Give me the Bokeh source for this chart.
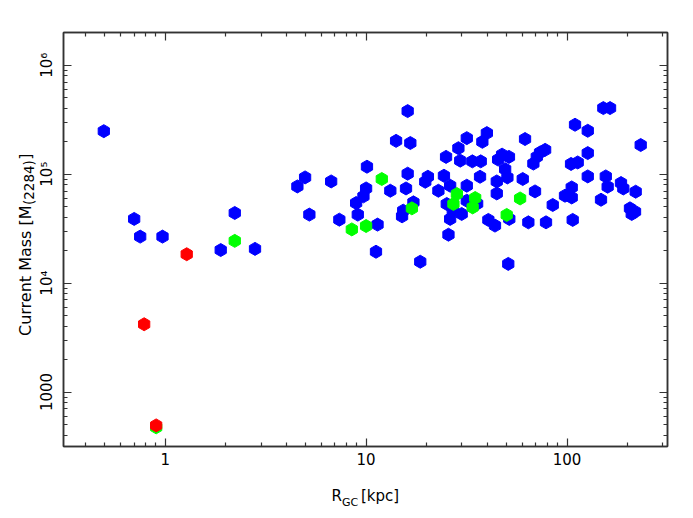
import numpy as np
from bokeh.plotting import figure
from bokeh.models import LogAxis, FixedTicker, Label, Range1d
from bokeh.embed import file_html
from bokeh.resources import INLINE

# ---- data ----
rgc_blue = [0.495, 0.701, 0.751, 0.97, 1.89, 2.22, 2.80, 4.55, 4.97, 5.22,
            6.70, 7.36, 8.92, 9.09, 9.70, 10.0, 10.1, 11.2, 11.4, 13.2,
            14.1, 15.1, 15.3, 15.8, 16.1, 16.1, 16.6, 17.2, 18.6, 20.3,
            19.7, 22.9, 24.4, 25.0, 25.2, 25.7, 26.2, 26.2, 27.0, 28.8,
            29.4, 29.9, 31.7, 31.7, 31.7, 33.8, 37.2, 36.9, 37.9, 39.9,
            35.7, 40.6, 43.8, 44.7, 44.7, 45.4, 47.5, 51.4, 49.2, 50.5,
            51.0, 51.6, 60.2, 61.8, 64.2, 68.0, 70.7, 73.4, 77.8, 69.3,
            78.6, 84.9, 97.7, 104.7, 105.5, 105.5, 106.7, 109.6, 113.0, 126.8,
            126.8, 126.8, 147.6, 151.6, 163.7, 155.9, 159.3, 185.6, 190.6, 205.7,
            218.0, 209.9, 219.6, 232.6]
mass_blue = [2.48e5, 3.88e4, 2.67e4, 2.67e4, 2.01e4, 4.40e4, 2.06e4, 7.71e4, 9.33e4, 4.25e4,
             8.57e4, 3.82e4, 5.43e4, 4.25e4, 6.25e4, 7.39e4, 1.17e5, 1.94e4, 3.44e4, 7.04e4,
             2.02e5, 4.10e4, 4.62e4, 7.39e4, 3.79e5, 1.01e5, 1.93e5, 5.51e4, 1.57e4, 9.46e4,
             8.51e4, 7.04e4, 9.67e4, 1.44e5, 5.32e4, 2.78e4, 7.83e4, 3.88e4, 4.62e4, 1.73e5,
             1.33e5, 4.31e4, 2.14e5, 7.83e4, 5.70e4, 1.31e5, 1.31e5, 9.46e4, 1.98e5, 2.38e5,
             5.36e4, 3.80e4, 3.37e4, 8.57e4, 6.65e4, 1.36e5, 1.51e5, 1.44e5, 1.11e5, 9.33e4,
             1.50e4, 3.88e4, 9.02e4, 2.10e5, 3.61e4, 1.25e5, 1.44e5, 1.58e5, 1.67e5, 6.94e4,
             3.61e4, 5.21e4, 6.34e4, 1.24e5, 7.55e4, 6.11e4, 3.80e4, 2.84e5, 1.28e5, 2.50e5,
             1.56e5, 9.53e4, 5.82e4, 4.04e5, 4.04e5, 9.53e4, 7.67e4, 8.28e4, 7.39e4, 4.85e4,
             4.52e4, 4.31e4, 6.90e4, 1.85e5]
rgc_green = [2.22, 8.49, 10.0, 11.97, 16.9, 28.3, 27.2, 34.9, 33.9, 50.1, 58.4, 0.902]
mass_green = [2.44e4, 3.11e4, 3.34e4, 9.02e4, 4.85e4, 6.57e4, 5.32e4, 6.04e4, 4.95e4, 4.22e4, 5.98e4, 474]
rgc_red = [1.28, 0.786, 0.902]
mass_red = [1.84e4, 4190, 494]

x_major = [1, 10, 100]
x_tick_labels = ["1", "10", "100"]
y_major = [1000, 10000, 100000, 1000000]
y_tick_labels = ["1000", "10\u2074", "10\u2075", "10\u2076"]

FONT = "DejaVu Sans"
AX_COLOR = "#333333"
NB = "\u00a0"

x_minor = [m * 10.0 ** d for d in range(-1, 3) for m in range(2, 10)]
y_minor = [m * 10.0 ** d for d in range(2, 7) for m in range(2, 10)]

p = figure(width=685, height=510, x_axis_type="log", y_axis_type="log",
           x_range=Range1d(10 ** -0.506, 10 ** 2.5), y_range=Range1d(10 ** 2.5, 10 ** 6.3),
           output_backend="svg", toolbar_location=None,
           min_border_left=63, min_border_right=18, min_border_top=32, min_border_bottom=64)
p.xgrid.visible = False
p.ygrid.visible = False
p.outline_line_color = AX_COLOR
p.outline_line_width = 1.5
p.background_fill_color = "white"
p.border_fill_color = "white"


def style_axis(ax, ticks, minor, labels=None, vertical=False):
    ax.ticker = FixedTicker(ticks=ticks, minor_ticks=minor)
    ax.major_tick_in = 8
    ax.major_tick_out = 0
    ax.minor_tick_in = 4
    ax.minor_tick_out = 0
    ax.axis_line_color = AX_COLOR
    ax.axis_line_width = 1.5
    ax.major_tick_line_color = AX_COLOR
    ax.minor_tick_line_color = AX_COLOR
    ax.major_tick_line_width = 1.2
    ax.minor_tick_line_width = 1.2
    if labels is None:
        ax.major_label_text_font_size = "0px"
        ax.major_label_overrides = {t: "" for t in ticks}
        ax.major_label_standoff = 0
    else:
        ax.major_label_overrides = {t: l for t, l in zip(ticks, labels)}
        ax.major_label_text_font = FONT
        ax.major_label_text_font_size = "15px"
        ax.major_label_text_color = "black"
        if vertical:
            ax.major_label_orientation = "vertical"
            ax.major_label_standoff = 7
        else:
            ax.major_label_standoff = 6


style_axis(p.xaxis[0], x_major, x_minor, x_tick_labels)
style_axis(p.yaxis[0], y_major, y_minor, y_tick_labels, vertical=True)

top = LogAxis()
right = LogAxis()
style_axis(top, x_major, x_minor)
style_axis(right, y_major, y_minor)
p.add_layout(top, "above")
p.add_layout(right, "right")

common = dict(marker="hex", size=13, angle=np.pi / 6, line_width=1)
p.scatter(rgc_blue, mass_blue, fill_color="#0000ff", line_color="#0000ff", **common)
p.scatter(rgc_green, mass_green, fill_color="#00ff00", line_color="#00ff00", **common)
p.scatter(rgc_red, mass_red, fill_color="#ff0000", line_color="#ff0000", **common)

# axis titles with subscripts, placed in the side panels (not clipped)
lab = dict(x_units="screen", y_units="screen", text_font=FONT, text_color="black",
           text_align="left", text_baseline="alphabetic")
p.add_layout(Label(x=268, y=-10.8, text="R" + NB * 4 + "[kpc]", text_font_size="15px", **lab), "below")
p.add_layout(Label(x=278.4, y=-3.5, text="GC", text_font_size="11px", **lab), "below")
p.add_layout(Label(x=9, y=110.5, text="Current Mass [M" + NB * 9 + "]", angle=np.pi / 2,
                   text_font_size="16px", **lab), "left")
p.add_layout(Label(x=28, y=241.5, text="(2284)", angle=np.pi / 2,
                   text_font_size="13.5px", **lab), "left")

open("out.html", "w").write(file_html(p, INLINE))
